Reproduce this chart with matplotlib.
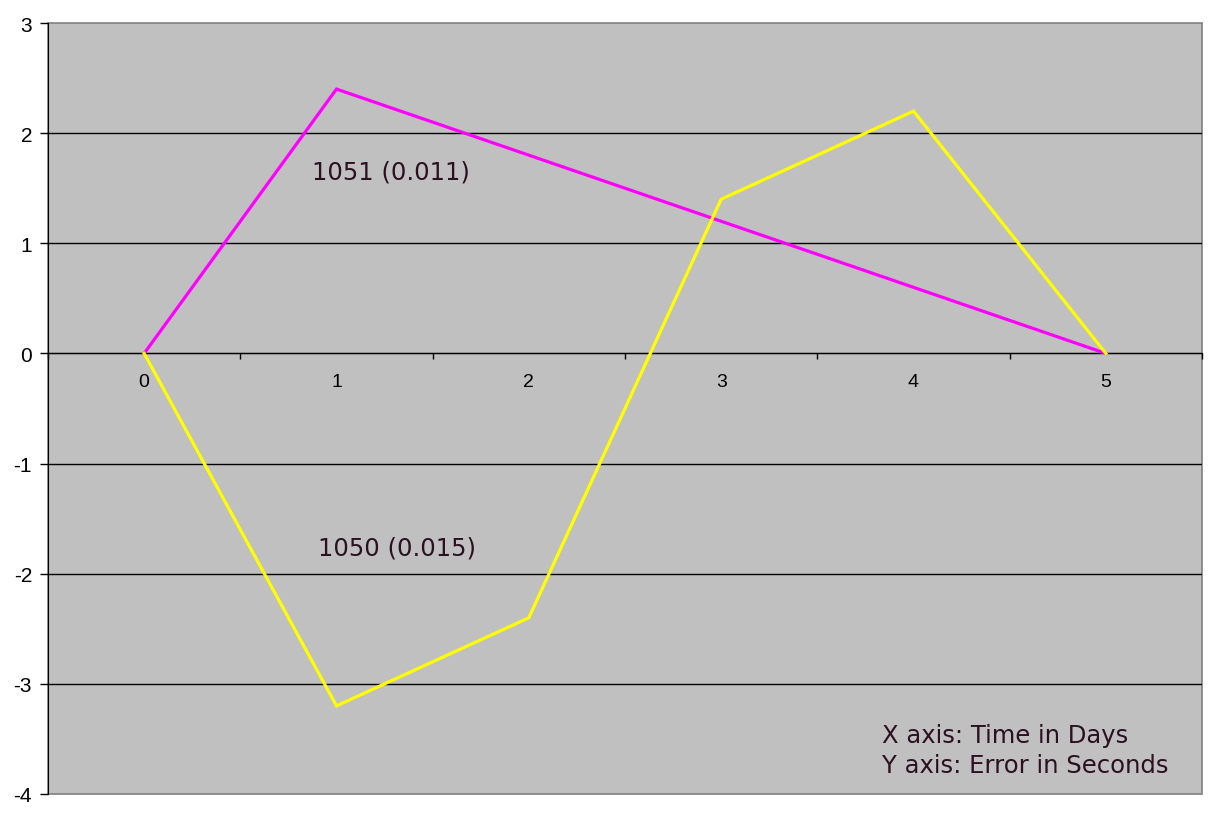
import numpy as np
from matplotlib import pyplot as plt

days = [0, 1, 2, 3, 4, 5]
clock_1051 = [0, 2.4, 1.8, 1.2, 0.6, 0]
clock_1050 = [0, -3.2, -2.4, 1.4, 2.2, 0]
y_ticks = [-4, -3, -2, -1, 0, 1, 2, 3]

label_1051 = '1051 (0.011)'
label_1050 = '1050 (0.015)'
note = 'X axis: Time in Days\nY axis: Error in Seconds'

text_color = '#2b1020'

plt.rcParams['font.family'] = ['Liberation Sans', 'DejaVu Sans']
plt.rcParams['axes.unicode_minus'] = False

fig = plt.figure(figsize=(12.1, 8.2), dpi=100)
ax = fig.add_axes([48 / 1210, 25 / 820, 1154 / 1210, 771 / 820])

# background and gray frame
ax.patch.set_facecolor('#C0C0C0')
ax.patch.set_edgecolor('#808080')
ax.patch.set_linewidth(1.2)

ax.plot(days, clock_1051, color='#FF00FF', lw=2.3, solid_joinstyle='miter', zorder=3)
ax.plot(days, clock_1050, color='#FFFF00', lw=2.3, solid_joinstyle='miter', zorder=3)

ax.set_xlim(-0.5, 5.5)
ax.set_ylim(-4, 3)

# horizontal gridlines
ax.set_yticks(y_ticks)
ax.yaxis.grid(True, color='black', lw=1)
ax.set_axisbelow(True)
gl = ax.get_ygridlines()
gl[0].set_visible(False)
gl[-1].set_visible(False)

# spines: left black, x axis on the zero line
for s in ['top', 'right']:
    ax.spines[s].set_visible(False)
ax.spines['left'].set_color('black')
ax.spines['bottom'].set_position(('data', 0))
ax.spines['bottom'].set_color('black')
ax.spines['bottom'].set_zorder(2)

ax.set_xticks(days)
ax.set_xticks(np.arange(-0.5, 6.0, 1.0), minor=True)
ax.tick_params(axis='x', which='major', length=0, pad=14, labelsize=14)
ax.tick_params(axis='x', which='minor', length=4.5, direction='out', width=1)
ax.tick_params(axis='y', length=5.5, direction='out', width=1, pad=6, labelsize=15)

ax.text(1.285, 1.65, label_1051, ha='center', va='center', fontsize=17.5,
        color=text_color, family='DejaVu Sans')
ax.text(1.315, -1.76, label_1050, ha='center', va='center', fontsize=17.5,
        color=text_color, family='DejaVu Sans')
ax.text(0.723, 0.022, note, transform=ax.transAxes, ha='left', va='bottom',
        fontsize=17.5, color=text_color, family='DejaVu Sans', linespacing=1.33)

fig.savefig('out.png', dpi=100)
